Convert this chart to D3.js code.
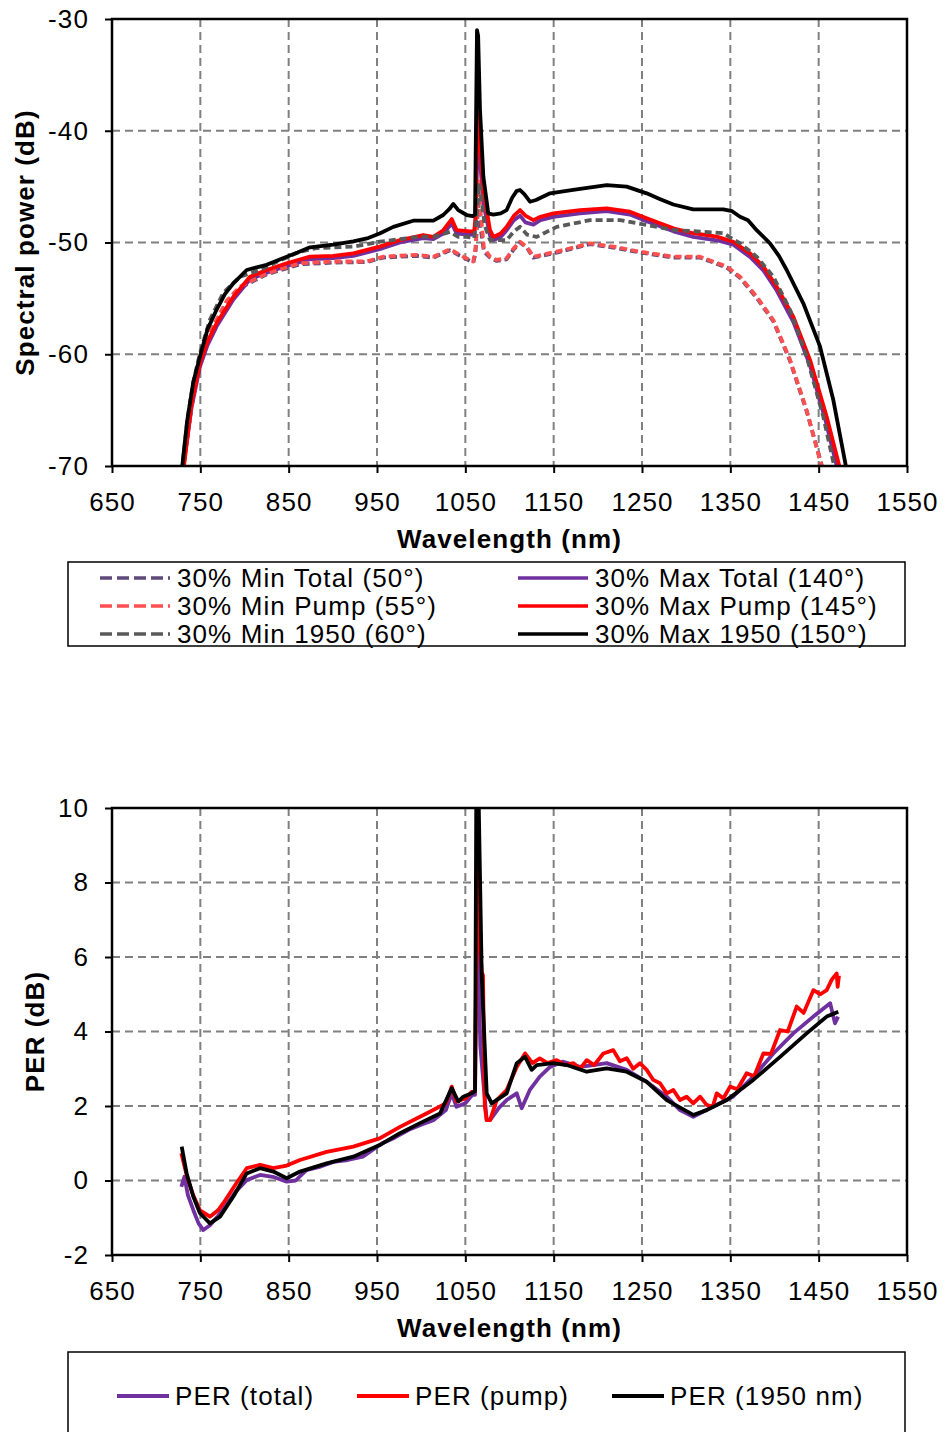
<!DOCTYPE html>
<html>
<head>
<meta charset="utf-8">
<script src="https://cdn.jsdelivr.net/npm/d3@7"></script>
<style>
  body { margin: 0; background: #fff; }
  svg text { font-family: "Liberation Sans", Arial, sans-serif; fill: #000; letter-spacing: 1.1px; }
</style>
</head>
<body>
<svg id="chart" width="947" height="1432"></svg>
<script>
// x axis shared by both panels
const xTicks = [650, 750, 850, 950, 1050, 1150, 1250, 1350, 1450, 1550];
const powerTicks = [-70, -60, -50, -40, -30];
const perTicks = [-2, 0, 2, 4, 6, 8, 10];

// ---- spectral power (dB) vs wavelength (nm) ----
const minTotal = [[730,-70.5],[740,-64.7],[753.4,-59.2],[768.5,-57.0],[780,-55.3],[794.9,-54.05],[825.1,-52.85],[862.8,-51.95],[900.5,-51.8],[938.3,-51.75],[957.1,-51.35],[994.9,-51.2],[1013.8,-51.35],[1032.7,-50.7],[1047.7,-51.35],[1059,-51.8],[1061.5,-51],[1064.5,-46.5],[1067,-48.5],[1071,-50.8],[1078,-51.35],[1085.5,-51.65],[1096.8,-51.5],[1105,-50.6],[1111.9,-50.0],[1119.5,-50.45],[1127,-51.35],[1153.5,-50.9],[1191.2,-50.15],[1217.5,-50.45],[1247.7,-50.9],[1285.5,-51.35],[1315.8,-51.35],[1346,-52.25],[1361,-53.15],[1379.8,-54.95],[1398.7,-57.05],[1417.6,-60.6],[1436.4,-65.1],[1455.5,-70.5]];
const maxTotal = [[730,-70.5],[740,-64.8],[749.6,-61.1],[758,-59.2],[768.5,-57.5],[787.4,-55.1],[806.2,-53.3],[825.1,-52.7],[847.8,-52.1],[874.2,-51.5],[900.5,-51.4],[923.2,-51.2],[953,-50.6],[976,-50.0],[1002.4,-49.6],[1013.8,-49.7],[1025,-49.2],[1034.6,-48.3],[1040.2,-49.2],[1055.3,-49.3],[1060,-49.3],[1061.5,-48.2],[1064,-40.5],[1066,-42],[1070.4,-46.5],[1078,-49.4],[1081.7,-49.8],[1090,-49.5],[1096.8,-48.9],[1105,-48.0],[1111.9,-47.6],[1118,-48.2],[1127,-48.4],[1135,-48.0],[1149.6,-47.7],[1179.8,-47.4],[1210,-47.2],[1236.4,-47.5],[1255.3,-48.1],[1285.5,-49.0],[1308,-49.5],[1334.6,-49.8],[1353.4,-50.2],[1372.3,-51.3],[1387.4,-52.5],[1402.5,-54.3],[1421.3,-57.1],[1440.2,-61.0],[1458,-66.0],[1472,-70.5]];
const minPump = [[730,-70.5],[740,-64.5],[753.4,-59.0],[768.5,-56.9],[780,-55.2],[794.9,-53.95],[825.1,-52.76],[862.8,-51.86],[900.5,-51.7],[938.3,-51.7],[957.1,-51.27],[994.9,-51.1],[1013.8,-51.27],[1032.7,-50.6],[1047.7,-51.27],[1059,-51.7],[1061.5,-50.5],[1064.5,-44.5],[1067,-47],[1071,-50.5],[1078,-51.27],[1085.5,-51.56],[1096.8,-51.4],[1105,-50.5],[1111.9,-49.93],[1119.5,-50.37],[1127,-51.27],[1153.5,-50.82],[1191.2,-50.07],[1217.5,-50.37],[1247.7,-50.82],[1285.5,-51.27],[1315.8,-51.27],[1346,-52.16],[1361,-53.06],[1379.8,-54.85],[1398.7,-56.94],[1417.6,-60.5],[1436.4,-65.0],[1455,-70.5]];
const maxPump = [[730.7,-70.5],[740,-64.5],[749.6,-60.8],[758,-58.9],[768.5,-57.2],[787.4,-54.85],[806.2,-53.06],[825.1,-52.46],[847.8,-51.86],[874.2,-51.27],[900.5,-51.2],[923.2,-50.97],[953,-50.37],[976,-49.78],[1002.4,-49.33],[1013.8,-49.5],[1025,-48.9],[1034.6,-47.9],[1040.2,-48.9],[1055.3,-49.0],[1060,-49.0],[1061.5,-47.8],[1064,-38.4],[1066,-40],[1070.4,-45.3],[1078,-48.9],[1081.7,-49.5],[1090,-49.2],[1096.8,-48.6],[1105,-47.6],[1111.9,-47.1],[1118,-47.6],[1127,-48.0],[1135,-47.7],[1149.6,-47.4],[1179.8,-47.1],[1210,-46.95],[1236.4,-47.24],[1255.3,-47.83],[1285.5,-48.73],[1308,-49.17],[1334.6,-49.48],[1353.4,-49.93],[1372.3,-50.97],[1387.4,-52.16],[1402.5,-53.95],[1421.3,-56.64],[1440.2,-60.5],[1459.1,-65.6],[1475,-70.5]];
const min1950 = [[729,-70.5],[736,-65.5],[742,-62.5],[749.6,-59.9],[760.9,-56.9],[776,-54.5],[794.9,-53.06],[817.6,-52.46],[840,-51.6],[862.8,-50.82],[881.7,-50.5],[923.2,-50.37],[953,-49.93],[998.7,-49.48],[1013.8,-49.5],[1032.7,-49.04],[1042,-49.5],[1051.6,-49.5],[1060,-49.6],[1062,-48.5],[1065.5,-44.7],[1068,-46],[1072,-48.5],[1078,-49.78],[1096.8,-49.8],[1105,-49.0],[1111.9,-48.6],[1120,-49.3],[1130.8,-49.5],[1153.5,-48.6],[1191.2,-48.0],[1225.2,-48.0],[1255.3,-48.43],[1285.5,-48.88],[1315.8,-49.03],[1342,-49.17],[1361,-50.07],[1379.8,-51.27],[1398.7,-53.06],[1417.6,-56.04],[1436.4,-60.22],[1455.3,-65.6],[1469,-70.5]];
const max1950 = [[728.9,-70.5],[735,-66],[742,-62.5],[749.6,-60.2],[758,-57.8],[768.5,-56.0],[778,-54.6],[787.4,-53.65],[802.5,-52.46],[815,-52.2],[825.1,-52.0],[847.8,-51.27],[860,-50.9],[874.2,-50.43],[900.5,-50.2],[923.2,-49.9],[940,-49.6],[953,-49.2],[968.5,-48.6],[991,-48.05],[1013.8,-48.05],[1025,-47.54],[1032,-47.0],[1036.4,-46.55],[1042,-47.1],[1051.6,-47.54],[1058.3,-47.63],[1061,-47.5],[1063.2,-31.0],[1064.5,-31.5],[1066.6,-38.1],[1070.4,-44.1],[1076,-47.4],[1081.7,-47.5],[1090,-47.4],[1096.8,-47.1],[1103,-46.0],[1108,-45.4],[1111.9,-45.3],[1117,-45.7],[1123.2,-46.35],[1130,-46.2],[1145.9,-45.6],[1172,-45.3],[1190,-45.1],[1210,-44.86],[1232.7,-45.0],[1255.3,-45.6],[1270,-46.1],[1285.5,-46.6],[1308,-47.03],[1342,-47.03],[1352,-47.2],[1361,-47.7],[1370,-48.0],[1379.8,-48.9],[1394.9,-50.07],[1405,-51.2],[1413.8,-52.46],[1432.6,-55.44],[1451.5,-59.3],[1466.6,-64.1],[1482,-70.5]];

// ---- PER (dB) vs wavelength (nm) ----
const perTotal = [[728.5,-0.17],[730,-0.05],[732,0.1],[736,-0.4],[742,-0.79],[748,-1.15],[753.4,-1.33],[760.9,-1.2],[770,-0.95],[778,-0.7],[790,-0.3],[802.5,0.01],[817.6,0.15],[832,0.1],[847.8,-0.03],[858,0.0],[870,0.28],[884,0.36],[900.5,0.5],[917,0.55],[934,0.64],[956,1.0],[970,1.15],[986,1.36],[1000,1.5],[1013.8,1.62],[1028,1.89],[1034.6,2.34],[1040,1.98],[1050,2.07],[1058,2.3],[1061,2.3],[1063.5,8.5],[1065.5,5.0],[1067,3.6],[1072,2.2],[1074.2,1.62],[1078,1.62],[1088,1.95],[1096.8,2.16],[1108.2,2.34],[1113.8,1.94],[1123,2.43],[1134.3,2.79],[1145.9,3.05],[1160,3.19],[1179.8,3.05],[1195,3.1],[1210,3.15],[1232.7,2.97],[1255.3,2.65],[1278,2.25],[1293,1.89],[1308,1.71],[1330,1.98],[1353,2.25],[1376,2.79],[1398.7,3.41],[1421.3,3.95],[1444,4.4],[1463,4.76],[1468.5,4.22],[1472,4.4]];
const perPump = [[728.5,0.73],[735,0.1],[742,-0.4],[749.6,-0.8],[760.9,-0.97],[770,-0.8],[776,-0.61],[790,-0.1],[802.5,0.33],[817.6,0.42],[832.6,0.33],[847.8,0.4],[862.8,0.55],[893,0.77],[923.2,0.91],[953,1.13],[976,1.44],[1006,1.8],[1028,2.07],[1034.6,2.52],[1040,2.12],[1050,2.2],[1057.2,2.38],[1061,2.4],[1063.5,9.0],[1066,6.5],[1068.6,5.6],[1070,5.5],[1072,2.0],[1074.2,1.62],[1078,1.62],[1085.5,2.16],[1096.8,2.43],[1108.2,3.05],[1117.6,3.41],[1126,3.15],[1134.3,3.28],[1143,3.15],[1153.5,3.23],[1163,3.1],[1172.4,3.15],[1180,3.0],[1187.4,3.23],[1196,3.1],[1206.2,3.41],[1217.5,3.5],[1225,3.2],[1232.7,3.28],[1240,3.0],[1247.7,3.15],[1255.3,2.97],[1262.8,2.7],[1270.4,2.61],[1278,2.34],[1285.5,2.43],[1293,2.16],[1300.5,2.25],[1308,2.07],[1315.8,2.25],[1323.2,2.03],[1330,1.98],[1334.6,2.34],[1342,2.2],[1349.7,2.52],[1358,2.45],[1368.5,2.88],[1377,2.8],[1387.4,3.41],[1396,3.4],[1406.3,4.04],[1415,4.0],[1425.1,4.67],[1433,4.5],[1444,5.11],[1452,5.0],[1459.1,5.11],[1465,5.4],[1470.4,5.56],[1471.5,5.2],[1473,5.5]];
const per1950 = [[728.9,0.91],[734.5,0.19],[742,-0.43],[749.6,-0.88],[760.9,-1.15],[772.3,-0.97],[787.4,-0.43],[802.5,0.19],[817.6,0.33],[832.6,0.24],[847.8,0.06],[862.8,0.24],[893,0.46],[923.2,0.64],[953,0.95],[976,1.27],[998.7,1.54],[1021.3,1.8],[1034.6,2.48],[1042,2.12],[1047.7,2.25],[1057.2,2.34],[1061,2.4],[1062.5,11],[1064.5,11],[1068.6,5.47],[1074.2,2.34],[1079.8,2.07],[1096.8,2.34],[1108.2,3.15],[1117.6,3.32],[1125.1,2.97],[1130.8,3.1],[1149.6,3.15],[1164.7,3.1],[1187.4,2.92],[1210,3.01],[1232.7,2.92],[1255.3,2.65],[1278,2.16],[1308,1.76],[1323.2,1.89],[1346,2.16],[1376,2.7],[1406.3,3.32],[1436.4,3.95],[1459.1,4.4],[1472.2,4.53]];

const topSeries = [
  { name: "30% Min Total (50°)",  data: minTotal, color: "#604a7b", dash: true },
  { name: "30% Max Total (140°)", data: maxTotal, color: "#7030a0", dash: false },
  { name: "30% Min Pump (55°)",   data: minPump,  color: "#ff5050", dash: true },
  { name: "30% Max Pump (145°)",  data: maxPump,  color: "#ff0000", dash: false },
  { name: "30% Min 1950 (60°)",   data: min1950,  color: "#595959", dash: true },
  { name: "30% Max 1950 (150°)",  data: max1950,  color: "#000000", dash: false }
];
const bottomSeries = [
  { name: "PER (total)",   data: perTotal, color: "#7030a0" },
  { name: "PER (pump)",    data: perPump,  color: "#ff0000" },
  { name: "PER (1950 nm)", data: per1950,  color: "#000000" }
];

const svg = d3.select("#chart");
const left = 112, right = 907;
const FS = 26;
const fmt = d => (d < 0 ? "-" : "") + Math.abs(d);

const x = d3.scaleLinear().domain([650, 1550]).range([left, right]);

function panel(id, top, bottom, yDomain, yTicks, yTitle, yTitleX, series) {
  const y = d3.scaleLinear().domain(yDomain).range([bottom, top]);
  const g = svg.append("g").attr("id", id);

  g.append("clipPath").attr("id", id + "-clip")
    .append("rect").attr("x", left).attr("y", top)
    .attr("width", right - left).attr("height", bottom - top);

  // dashed grid
  const grid = g.append("g").attr("stroke", "#808080").attr("stroke-width", 2)
    .attr("stroke-dasharray", "8,5");
  grid.selectAll("line.v").data(xTicks.slice(1, -1)).join("line")
    .attr("x1", d => x(d)).attr("x2", d => x(d)).attr("y1", top).attr("y2", bottom);
  grid.selectAll("line.h").data(yTicks.slice(1, -1)).join("line")
    .attr("y1", d => y(d)).attr("y2", d => y(d)).attr("x1", left).attr("x2", right);

  // axes
  const xa = g.append("g").attr("transform", `translate(0,${bottom})`)
    .call(d3.axisBottom(x).tickValues(xTicks).tickFormat(fmt).tickSize(7).tickSizeOuter(0).tickPadding(20));
  const ya = g.append("g").attr("transform", `translate(${left},0)`)
    .call(d3.axisLeft(y).tickValues(yTicks).tickFormat(fmt).tickSize(7).tickSizeOuter(0).tickPadding(16));
  [xa, ya].forEach(a => {
    a.select(".domain").remove();
    a.selectAll("line").attr("stroke", "#000").attr("stroke-width", 2);
    a.selectAll("text").attr("font-size", FS).attr("font-family", "Liberation Sans, Arial, sans-serif");
  });

  // series
  const line = d3.line().x(d => x(d[0])).y(d => y(d[1]));
  const lines = g.append("g").attr("clip-path", `url(#${id}-clip)`);
  series.forEach(s => {
    lines.append("path").datum(s.data)
      .attr("d", line)
      .attr("fill", "none")
      .attr("stroke", s.color)
      .attr("stroke-width", 3.8)
      .attr("stroke-linejoin", "round")
      .attr("stroke-dasharray", s.dash ? "7,4" : null);
  });

  // frame
  g.append("rect").attr("x", left).attr("y", top)
    .attr("width", right - left).attr("height", bottom - top)
    .attr("fill", "none").attr("stroke", "#000").attr("stroke-width", 2.5);

  // titles
  g.append("text").attr("x", (left + right) / 2).attr("y", bottom + 82)
    .attr("text-anchor", "middle").attr("font-size", FS).attr("font-weight", "bold")
    .text("Wavelength (nm)");
  g.append("text")
    .attr("transform", `translate(${yTitleX},${(top + bottom) / 2}) rotate(-90)`)
    .attr("text-anchor", "middle").attr("font-size", FS).attr("font-weight", "bold")
    .text(yTitle);
  return g;
}

panel("power", 19, 466, [-70, -30], powerTicks, "Spectral power (dB)", 34, topSeries);
panel("per", 808, 1255, [-2, 10], perTicks, "PER (dB)", 44, bottomSeries);

// legend, top chart: two columns, filled row by row
const leg1 = svg.append("g");
leg1.append("rect").attr("x", 68).attr("y", 562).attr("width", 837).attr("height", 84)
  .attr("fill", "#fff").attr("stroke", "#000").attr("stroke-width", 1.5);
topSeries.forEach((s, i) => {
  const col = i % 2, row = Math.floor(i / 2);
  const lx = col === 0 ? 100 : 518, ly = 578 + row * 28;
  leg1.append("line").attr("x1", lx).attr("x2", lx + 70).attr("y1", ly).attr("y2", ly)
    .attr("stroke", s.color).attr("stroke-width", 3.5)
    .attr("stroke-dasharray", s.dash ? "12,5" : null);
  leg1.append("text").attr("x", lx + 77).attr("y", ly + 9).attr("font-size", FS).text(s.name);
});

// legend, bottom chart: one row
const leg2 = svg.append("g");
leg2.append("rect").attr("x", 68).attr("y", 1352).attr("width", 837).attr("height", 120)
  .attr("fill", "none").attr("stroke", "#000").attr("stroke-width", 1.5);
const leg2X = [117, 357, 612];
bottomSeries.forEach((s, i) => {
  const lx = leg2X[i], ly = 1396;
  leg2.append("line").attr("x1", lx).attr("x2", lx + 52).attr("y1", ly).attr("y2", ly)
    .attr("stroke", s.color).attr("stroke-width", 3.8);
  leg2.append("text").attr("x", lx + 58).attr("y", ly + 9).attr("font-size", FS).text(s.name);
});
</script>
</body>
</html>
